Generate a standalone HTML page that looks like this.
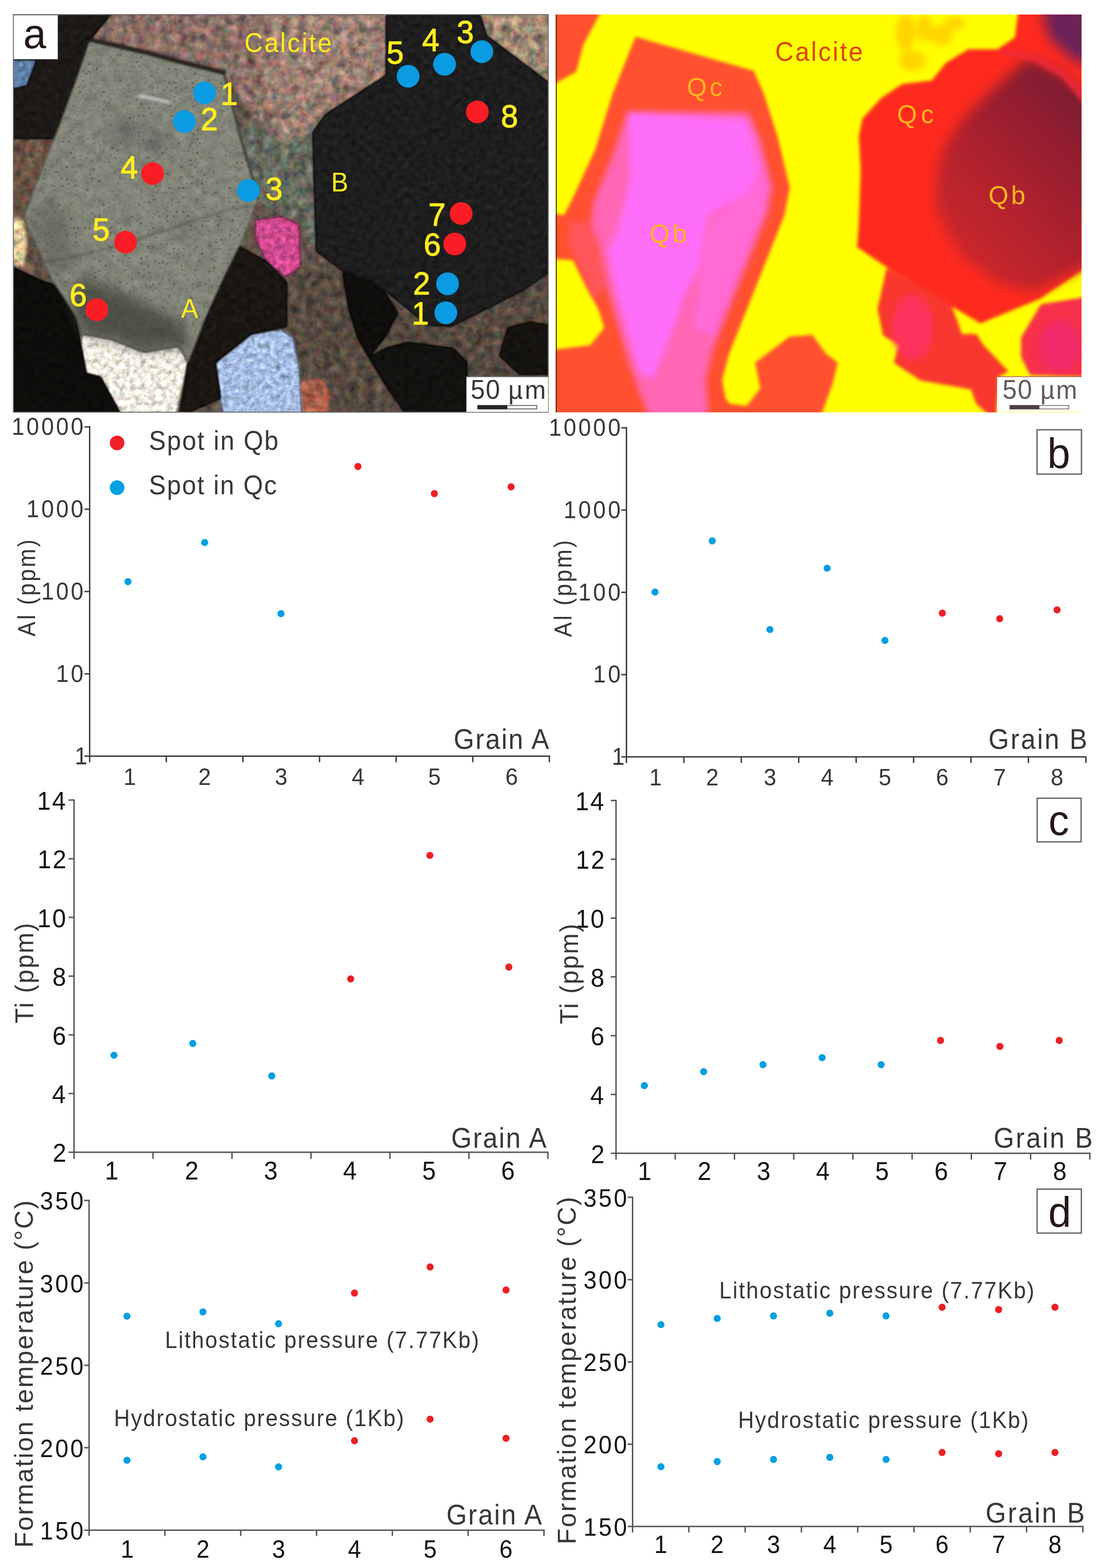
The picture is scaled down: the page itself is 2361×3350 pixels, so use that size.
<!DOCTYPE html>
<html lang="en"><head><meta charset="utf-8"><title>Figure</title>
<style>
html,body{margin:0;padding:0;background:#fff}
svg{display:block}
text{font-family:"Liberation Sans",sans-serif;white-space:pre}
</style></head>
<body>
<svg width="2361" height="3350" viewBox="0 0 2361 3350">
<defs>
<clipPath id="clipL"><rect x="28" y="31" width="1144" height="850"/></clipPath>
<clipPath id="clipR"><rect x="1187" y="31" width="1123.8" height="850"/></clipPath>
<filter id="b3" x="20" y="20" width="1160" height="870" filterUnits="userSpaceOnUse" color-interpolation-filters="sRGB"><feGaussianBlur stdDeviation="2.5"/></filter>
<filter id="b20" x="20" y="20" width="1160" height="870" filterUnits="userSpaceOnUse" color-interpolation-filters="sRGB"><feGaussianBlur stdDeviation="14"/></filter>
<filter id="rb4" x="1160" y="0" width="1180" height="910" filterUnits="userSpaceOnUse" color-interpolation-filters="sRGB"><feGaussianBlur stdDeviation="4"/></filter>
<filter id="rb5" x="1160" y="0" width="1180" height="910" filterUnits="userSpaceOnUse" color-interpolation-filters="sRGB"><feGaussianBlur stdDeviation="3.5"/></filter>
<filter id="rb8" x="1160" y="0" width="1180" height="910" filterUnits="userSpaceOnUse" color-interpolation-filters="sRGB"><feGaussianBlur stdDeviation="7"/></filter>
<filter id="rb14" x="1160" y="0" width="1180" height="910" filterUnits="userSpaceOnUse" color-interpolation-filters="sRGB"><feGaussianBlur stdDeviation="14"/></filter>
<linearGradient id="gcore" gradientUnits="userSpaceOnUse" x1="2000" y1="500" x2="2312" y2="200"><stop offset="0" stop-color="#cc282c"/><stop offset="0.5" stop-color="#a8202e"/><stop offset="1" stop-color="#7a1c32"/></linearGradient>
<filter id="mot" x="20" y="20" width="1160" height="870" filterUnits="userSpaceOnUse" color-interpolation-filters="sRGB">
<feTurbulence type="fractalNoise" baseFrequency="0.055" numOctaves="3" seed="5" result="t"/>
<feColorMatrix in="t" type="matrix" values=".6 .25 .15 0 0  .3 .5 .2 0 0  .3 .3 .4 0 0  0 0 0 0 1" result="t1"/>
<feGaussianBlur in="SourceGraphic" stdDeviation="3" result="s"/>
<feComposite in="s" in2="t1" operator="arithmetic" k1="1.7" k2="0.15" k3="0" k4="0"/>
</filter>
<filter id="mot2" x="20" y="20" width="1160" height="870" filterUnits="userSpaceOnUse" color-interpolation-filters="sRGB">
<feTurbulence type="fractalNoise" baseFrequency="0.09" numOctaves="3" seed="9" result="t"/>
<feColorMatrix in="t" type="matrix" values=".4 .3 .3 0 0  .3 .4 .3 0 0  .3 .3 .4 0 0  0 0 0 0 1" result="t1"/>
<feGaussianBlur in="SourceGraphic" stdDeviation="2.5" result="s"/>
<feComposite in="s" in2="t1" operator="arithmetic" k1="1.2" k2="0.4" k3="0" k4="0"/>
</filter>
<filter id="drk" x="20" y="20" width="1160" height="870" filterUnits="userSpaceOnUse" color-interpolation-filters="sRGB">
<feTurbulence type="fractalNoise" baseFrequency="0.08" numOctaves="3" seed="2" result="t"/>
<feColorMatrix in="t" type="matrix" values=".5 .3 .2 0 0  .3 .5 .2 0 0  .3 .3 .4 0 0  0 0 0 0 1" result="t1"/>
<feGaussianBlur in="SourceGraphic" stdDeviation="2.5" result="s"/>
<feComposite in="s" in2="t1" operator="arithmetic" k1="1.4" k2="0.3" k3="0" k4="0"/>
</filter>
<filter id="cra" x="20" y="20" width="1160" height="870" filterUnits="userSpaceOnUse" color-interpolation-filters="sRGB">
<feTurbulence type="fractalNoise" baseFrequency="0.05" numOctaves="3" seed="4" result="t"/>
<feColorMatrix in="t" type="matrix" values=".4 .3 .3 0 0  .3 .4 .3 0 0  .3 .3 .4 0 0  0 0 0 0 1" result="t1"/>
<feGaussianBlur in="SourceGraphic" stdDeviation="2" result="s"/>
<feComposite in="s" in2="t1" operator="arithmetic" k1="0.5" k2="0.75" k3="0" k4="0" result="m"/>
<feTurbulence type="fractalNoise" baseFrequency="0.2" numOctaves="2" seed="12" result="sp"/>
<feColorMatrix in="sp" type="matrix" values="0 0 0 0 0.17  0 0 0 0 0.17  0 0 0 0 0.17  0 0 0 6 -4.0" result="spa0"/>
<feGaussianBlur in="spa0" stdDeviation="0.9" result="spa"/>
<feComposite in="spa" in2="s" operator="in" result="spi"/>
<feMerge><feMergeNode in="m"/><feMergeNode in="spi"/></feMerge>
</filter>
</defs>
<rect width="2361" height="3350" fill="#fff"/>
<g clip-path="url(#clipL)">
<g filter="url(#mot)">
<rect x="20" y="20" width="1160" height="870" fill="#5f5248"/>
<polygon points="245.0,25.0 580.0,25.0 556.0,129.0 575.0,215.0 600.0,300.0 540.0,250.0 479.0,157.0 191.6,86.2" fill="#8a6e66"/>
<polygon points="578.0,25.0 830.0,25.0 825.0,161.0 695.0,245.0 668.0,283.0 620.0,300.0 596.0,300.0 575.0,215.0 556.0,129.0" fill="#9a7e72"/>
<polygon points="540.0,250.0 600.0,300.0 668.0,283.0 672.0,420.0 676.0,537.0 640.0,470.0 600.0,462.0 552.0,430.0 536.5,367.9 513.5,291.2" fill="#666a5e"/>
<polygon points="1024.5,25.0 1180.0,25.0 1180.0,182.0 1040.0,76.6" fill="#a08a74"/>
<polygon points="20.0,296.0 115.0,296.0 92.0,361.0 57.0,427.0 48.0,470.0 63.5,514.0 76.6,579.0 112.0,600.0 20.0,565.0" fill="#6a5244"/>
<polygon points="20.0,466.0 50.0,468.0 58.0,520.0 52.0,568.0 20.0,566.0" fill="#e2cc9c"/>
<polygon points="640.0,570.0 733.0,579.0 913.0,694.0 963.0,698.0 1116.0,621.0 1180.0,583.0 1180.0,890.0 645.0,890.0 625.0,720.0 613.0,650.0" fill="#564a40"/>
<polygon points="640.0,815.0 690.0,808.0 705.0,850.0 700.0,890.0 640.0,890.0" fill="#b0604a"/>
</g>
<g filter="url(#mot2)">
<polygon points="545.0,470.0 600.0,462.0 640.0,480.0 642.0,570.0 610.0,592.0 570.0,560.0 545.0,510.0" fill="#d04a8e"/>
<polygon points="20.0,127.0 79.0,127.0 60.0,184.0 20.0,192.0" fill="#5e80a8"/>
<polygon points="176.0,713.5 237.6,725.0 306.5,752.0 383.0,740.0 402.0,775.0 375.5,890.0 260.6,890.0 214.6,805.5 184.0,798.0 172.4,736.5" fill="#f0ece0"/>
<polygon points="460.0,775.0 536.5,713.6 600.0,704.0 625.0,720.0 640.0,790.0 645.0,890.0 478.0,890.0 471.0,851.5" fill="#a6bde2"/>
</g>
<g filter="url(#drk)">
<polygon points="20.0,20.0 245.0,20.0 191.6,86.2 168.6,153.3 129.0,285.0 115.0,296.0 20.0,296.0 20.0,192.0 57.5,184.0 79.0,127.0 20.0,127.0" fill="#1c1916"/>
<polygon points="20.0,568.0 95.8,602.4 126.5,610.0 134.0,633.0 161.0,675.0 172.4,736.5 184.0,798.0 214.6,805.5 260.6,890.0 20.0,890.0" fill="#0e0d0b"/>
<polygon points="509.6,525.8 567.0,556.5 613.0,602.4 613.0,698.0 536.5,713.6 460.0,775.0 471.3,851.5 383.0,890.0 402.0,775.0 440.6,675.0 479.0,591.0" fill="#1a1612"/>
<polygon points="825.0,31.0 1025.0,31.0 1040.0,76.6 1172.0,176.0 1172.0,583.0 1116.5,621.6 963.2,698.2 913.4,694.4 794.6,598.6 733.3,579.4 675.8,537.3 668.0,283.0 695.0,245.0 825.0,161.0" fill="#1e1e1e"/>
<polygon points="732.0,582.0 794.6,598.6 824.0,626.0 850.0,668.5 824.0,718.0 788.0,764.0 765.0,724.0 745.0,659.0" fill="#0f0e0c"/>
<polygon points="824.0,744.0 870.0,731.0 969.0,744.0 998.0,774.0 997.0,890.0 870.0,890.0 824.0,823.0 788.0,764.0" fill="#131210"/>
<polygon points="1085.0,700.0 1130.0,688.0 1180.0,695.0 1180.0,800.0 1110.0,800.0 1067.0,760.0" fill="#15130f"/>
</g>
<g filter="url(#cra)">
<polygon points="191.6,86.2 314.0,115.0 383.0,134.0 479.0,157.0 494.3,214.6 513.5,291.2 536.5,367.9 551.8,425.0 521.0,506.6 479.0,591.0 440.6,675.0 402.0,775.0 383.0,740.0 306.5,752.0 237.6,725.0 176.0,713.5 161.0,675.0 134.0,633.0 112.0,600.0 80.0,530.0 49.8,465.2 80.5,383.2 126.5,268.2 168.6,153.3" fill="#848679"/>
</g>
<g filter="url(#b20)" opacity="0.9">
<polygon points="150.0,640.0 171.5,590.0 260.0,625.0 386.0,686.0 400.0,720.0 398.0,770.0 383.0,740.0 306.5,752.0 237.6,725.0 176.0,713.5 161.0,675.0" fill="#3c3c36" opacity="0.8"/>
<polygon points="60.0,470.0 110.0,420.0 150.0,480.0 160.0,560.0 120.0,600.0 80.0,530.0" fill="#55564e" opacity="0.5"/>
<ellipse cx="268" cy="282" rx="30" ry="18" fill="#4c5054" opacity="0.7"/>
<ellipse cx="332" cy="305" rx="18" ry="28" fill="#4c5054" opacity="0.6"/>
<ellipse cx="395" cy="490" rx="14" ry="14" fill="#4c5054" opacity="0.5"/>
</g>
<g filter="url(#b3)" fill="none" stroke-linecap="round">
<path d="M191.6,84 L314,112 L383,131 L479,155" stroke="#15130f" stroke-width="9" opacity="0.85"/>
<path d="M479,157 L494,215 L513,291 L536,368 L552,425" stroke="#2a2622" stroke-width="4" opacity="0.7"/>
<path d="M95,560 C200,545 330,500 420,470 S500,445 548,440" stroke="#3a3a34" stroke-width="3" opacity="0.6"/>
<path d="M300,205 L360,218" stroke="#d8dce0" stroke-width="7" opacity="0.7"/>
</g>
</g>
<rect x="28.6" y="31.2" width="1142.8" height="849.4" fill="none" stroke="#666" stroke-width="2"/>
<rect x="29.5" y="32.5" width="94" height="94" fill="#fff"/>
<text transform="translate(49.86,102.60) scale(1,1.02)" font-size="88" fill="#231815">a</text>
<circle cx="436.8" cy="198.5" r="24.3" fill="#0a9be3"/>
<circle cx="393.9" cy="259.8" r="24.3" fill="#0a9be3"/>
<circle cx="326.1" cy="370.9" r="24.3" fill="#fb1d25"/>
<circle cx="530.7" cy="407.0" r="24.3" fill="#0a9be3"/>
<circle cx="268.2" cy="517.4" r="24.3" fill="#fb1d25"/>
<circle cx="206.9" cy="661.8" r="24.3" fill="#fb1d25"/>
<circle cx="872.0" cy="162.9" r="24.3" fill="#0a9be3"/>
<circle cx="949.8" cy="137.2" r="24.3" fill="#0a9be3"/>
<circle cx="1029.5" cy="110.4" r="24.3" fill="#0a9be3"/>
<circle cx="1019.9" cy="239.1" r="24.3" fill="#fb1d25"/>
<circle cx="985.4" cy="456.1" r="24.3" fill="#fb1d25"/>
<circle cx="971.6" cy="521.2" r="24.3" fill="#fb1d25"/>
<circle cx="956.3" cy="606.3" r="24.3" fill="#0a9be3"/>
<circle cx="952.5" cy="668.3" r="24.3" fill="#0a9be3"/>
<text transform="translate(471.24,224.20) scale(1,1.04)" font-size="66" fill="#ffee1f" stroke="#ffee1f" stroke-width="1.3">1</text>
<text transform="translate(429.00,277.80) scale(1,1.04)" font-size="66" fill="#ffee1f" stroke="#ffee1f" stroke-width="1.3">2</text>
<text transform="translate(567.14,426.80) scale(1,1.04)" font-size="66" fill="#ffee1f" stroke="#ffee1f" stroke-width="1.3">3</text>
<text transform="translate(257.66,381.30) scale(1,1.04)" font-size="66" fill="#ffee1f" stroke="#ffee1f" stroke-width="1.3">4</text>
<text transform="translate(197.86,513.80) scale(1,1.04)" font-size="66" fill="#ffee1f" stroke="#ffee1f" stroke-width="1.3">5</text>
<text transform="translate(148.72,653.50) scale(1,1.04)" font-size="66" fill="#ffee1f" stroke="#ffee1f" stroke-width="1.3">6</text>
<text transform="translate(826.11,135.50) scale(1,1.04)" font-size="66" fill="#ffee1f" stroke="#ffee1f" stroke-width="1.3">5</text>
<text transform="translate(901.96,109.20) scale(1,1.04)" font-size="66" fill="#ffee1f" stroke="#ffee1f" stroke-width="1.3">4</text>
<text transform="translate(975.69,91.50) scale(1,1.04)" font-size="66" fill="#ffee1f" stroke="#ffee1f" stroke-width="1.3">3</text>
<text transform="translate(1070.35,271.50) scale(1,1.04)" font-size="66" fill="#ffee1f" stroke="#ffee1f" stroke-width="1.3">8</text>
<text transform="translate(915.46,481.70) scale(1,1.04)" font-size="66" fill="#ffee1f" stroke="#ffee1f" stroke-width="1.3">7</text>
<text transform="translate(905.32,546.30) scale(1,1.04)" font-size="66" fill="#ffee1f" stroke="#ffee1f" stroke-width="1.3">6</text>
<text transform="translate(882.55,629.30) scale(1,1.04)" font-size="66" fill="#ffee1f" stroke="#ffee1f" stroke-width="1.3">2</text>
<text transform="translate(879.74,692.50) scale(1,1.04)" font-size="66" fill="#ffee1f" stroke="#ffee1f" stroke-width="1.3">1</text>
<text transform="translate(386.86,679.00) scale(1,1.04)" font-size="55" fill="#ffee1f">A</text>
<text transform="translate(707.45,409.20) scale(1,1.04)" font-size="55" fill="#ffee1f">B</text>
<text transform="translate(522.23,111.10) scale(1,1.04)" font-size="54.5" fill="#ffee1f" letter-spacing="3.35">Calcite</text>
<rect x="996.5" y="804.5" width="174.70000000000005" height="75.5" fill="#fff"/>
<path d="M996.5,805.0H1171.2" stroke="#4a4440" stroke-width="1.5" fill="none" opacity="0.8"/>
<text transform="translate(0,851.6) scale(1,1.04)" fill="#3a3634"><tspan x="1005.40" font-size="55" letter-spacing="1.87">50</tspan><tspan x="1067.15" font-size="54" letter-spacing="3.96"> µm</tspan></text>
<rect x="1021.0" y="866.4" width="125.79999999999995" height="7.2" fill="#fff" stroke="#3a3634" stroke-width="1.5"/>
<rect x="1020.25" y="865.6" width="63.75" height="8.8" fill="#2a2422"/>
<g clip-path="url(#clipR)">
<rect x="1187" y="31" width="1125" height="850" fill="#ffff00"/>
<g filter="url(#rb8)" fill="#ffb400" opacity="0.55">
<ellipse cx="1935" cy="70" rx="22" ry="40"/><ellipse cx="1975" cy="60" rx="16" ry="30"/><ellipse cx="2010" cy="75" rx="26" ry="22"/><ellipse cx="1950" cy="130" rx="30" ry="22"/><ellipse cx="2040" cy="50" rx="22" ry="16"/>
</g>
<g filter="url(#rb5)">
<polygon points="1170.0,15.0 1283.0,15.0 1281.0,31.0 1246.6,95.8 1231.3,153.3 1187.0,178.0 1170.0,180.0" fill="#ff5030"/>
<polygon points="1357.8,78.6 1610.7,151.4 1632.0,200.0 1661.6,292.7 1687.5,400.0 1676.4,459.5 1594.9,663.5 1557.8,756.2 1543.0,811.8 1550.0,850.0 1557.8,862.0 1594.9,867.4 1624.5,830.3 1613.4,774.7 1687.5,719.0 1735.8,715.4 1765.4,756.2 1790.0,775.0 1779.0,820.0 1750.0,900.0 1170.0,900.0 1170.0,455.0 1205.5,459.5 1224.0,422.5 1272.0,318.7 1309.0,200.0" fill="#ff5030"/>
<polygon points="1170.0,552.0 1224.0,556.0 1250.0,608.0 1279.7,663.5 1290.8,700.5 1261.0,737.6 1170.0,748.8" fill="#ffff00"/>
<polygon points="2176.3,15.0 2168.9,79.2 2131.8,105.2 2068.7,105.2 2020.5,134.8 1990.9,171.9 1927.8,179.3 1883.4,209.0 1842.6,253.5 1835.2,290.5 1838.9,364.7 1835.2,476.0 1831.4,527.9 1890.8,568.6 1983.5,624.3 2094.7,691.0 2220.8,639.1 2330.0,566.0 2330.0,15.0" fill="#ff2a1e"/>
<polygon points="1894.3,572.0 1875.0,660.0 1886.6,717.0 1921.0,736.5 1909.6,775.0 1967.0,813.0 2074.4,832.0 2086.0,863.0 2128.0,900.0 2135.0,803.6 2155.0,794.0 2101.0,736.5 2086.0,713.6 2055.0,713.6 2047.5,690.6 2032.0,650.0" fill="#f8382e"/>
<polygon points="2181.7,721.0 2224.0,650.0 2330.0,633.0 2330.0,805.5 2200.8,801.7 2181.7,763.0" fill="#f8304a"/>
</g>
<g filter="url(#rb8)">
<polygon points="1340.0,238.0 1600.0,240.0 1625.0,300.0 1650.0,400.0 1640.0,455.0 1560.0,655.0 1522.0,750.0 1508.0,812.0 1515.0,900.0 1390.0,900.0 1352.0,800.0 1338.0,756.0 1300.0,626.0 1283.0,534.0 1262.0,475.0 1268.0,430.0 1310.0,330.0" fill="#ff66b4"/>
<polygon points="1590.0,250.0 1618.0,300.0 1642.0,400.0 1632.0,450.0 1560.0,630.0 1525.0,720.0 1480.0,700.0 1500.0,560.0 1520.0,470.0 1610.0,400.0" fill="#ff6ad8" opacity="0.9"/>
<polygon points="1343.0,240.0 1595.0,254.0 1618.0,366.0 1600.0,410.0 1513.0,462.0 1495.0,570.0 1465.0,626.0 1446.0,682.0 1395.0,812.0 1365.0,793.0 1354.0,756.0 1317.0,626.0 1298.0,534.0 1317.0,497.0 1346.0,385.0 1343.0,300.0" fill="#ff6ef8"/>
<polygon points="1220.0,470.0 1262.0,480.0 1300.0,600.0 1270.0,640.0 1235.0,560.0 1215.0,520.0" fill="#ff5a78" opacity="0.6"/>
<ellipse cx="1950" cy="700" rx="45" ry="70" fill="#ff3070" opacity="0.7"/>
<ellipse cx="2265" cy="740" rx="45" ry="55" fill="#f02878" opacity="0.7"/>
</g>
<g filter="url(#rb14)">
<polygon points="2198.5,123.7 2261.6,153.4 2335.0,216.4 2335.0,560.0 2205.9,624.3 2131.8,605.7 2057.6,550.1 2020.5,494.5 1998.3,438.9 2002.0,364.7 2020.5,309.1 2057.6,253.5 2113.2,197.9" fill="url(#gcore)"/>
<polygon points="2225.0,10.0 2340.0,10.0 2340.0,150.0 2290.0,125.0 2240.0,80.0" fill="#6a2258"/>
</g>
<g filter="url(#rb5)">
<path d="M2140,110 L2215,125 L2275,160 L2320,215" fill="none" stroke="#f02a38" stroke-width="16" opacity="0.8"/>
</g>
</g>
<rect x="1187.6" y="31" width="2.2" height="850" fill="#4a3a10"/>
<text transform="translate(1656.23,130.00) scale(1,1.04)" font-size="54.5" fill="#d9440c" letter-spacing="3.47">Calcite</text>
<text transform="translate(1467.40,205.30) scale(1,1)" font-size="55" fill="#ffb51e" letter-spacing="5.97">Qc</text>
<text transform="translate(1387.70,517.50) scale(1,1)" font-size="55" fill="#ffb51e" letter-spacing="6.25">Qb</text>
<text transform="translate(1916.60,262.50) scale(1,1)" font-size="55" fill="#ffb51e" letter-spacing="8.47">Qc</text>
<text transform="translate(2112.00,435.50) scale(1,1)" font-size="55" fill="#ffb51e" letter-spacing="5.55">Qb</text>
<rect x="2130.5" y="804.3" width="180.5" height="76.0" fill="#fff"/>
<path d="M2130.5,804.8H2311.0" stroke="#8a3020" stroke-width="1.5" fill="none" opacity="0.8"/>
<text transform="translate(0,851.6) scale(1,1.04)" fill="#625a5a"><tspan x="2142.00" font-size="55" letter-spacing="1.87">50</tspan><tspan x="2204.95" font-size="54" letter-spacing="2.76"> µm</tspan></text>
<rect x="2157.8" y="866.4" width="126.0" height="7.2" fill="#fff" stroke="#625a5a" stroke-width="1.5"/>
<rect x="2157.05" y="865.6" width="63.75" height="8.8" fill="#4a4040"/>
<path d="M191.60,910.60V1628.50" stroke="#3f3b39" stroke-width="3.0" fill="none"/>
<path d="M180.50,1615.60H1175.30" stroke="#3f3b39" stroke-width="3.0" fill="none"/>
<path d="M180.50,912.10H191.60M180.50,1087.97H191.60M180.50,1263.85H191.60M180.50,1439.72H191.60M355.30,1615.60V1628.50M519.00,1615.60V1628.50M682.70,1615.60V1628.50M846.40,1615.60V1628.50M1010.10,1615.60V1628.50M1173.80,1615.60V1628.50" stroke="#3f3b39" stroke-width="3.0" fill="none"/>
<text transform="translate(25.03,929.40) scale(1,1.06)" font-size="48.5" fill="#3a3634" letter-spacing="4.60">10000</text>
<text transform="translate(56.60,1105.27) scale(1,1.06)" font-size="48.5" fill="#3a3634" letter-spacing="4.60">1000</text>
<text transform="translate(88.17,1281.15) scale(1,1.06)" font-size="48.5" fill="#3a3634" letter-spacing="4.60">100</text>
<text transform="translate(119.75,1457.02) scale(1,1.06)" font-size="48.5" fill="#3a3634" letter-spacing="4.60">10</text>
<text transform="translate(159.79,1632.90) scale(1,1.06)" font-size="48.5" fill="#3a3634" letter-spacing="4.60">1</text>
<text transform="translate(263.75,1676.50) scale(1,1.04)" font-size="48.5" fill="#3a3634">1</text>
<text transform="translate(423.71,1676.50) scale(1,1.04)" font-size="48.5" fill="#3a3634">2</text>
<text transform="translate(587.26,1676.50) scale(1,1.04)" font-size="48.5" fill="#3a3634">3</text>
<text transform="translate(751.47,1676.50) scale(1,1.04)" font-size="48.5" fill="#3a3634">4</text>
<text transform="translate(914.76,1676.50) scale(1,1.04)" font-size="48.5" fill="#3a3634">5</text>
<text transform="translate(1079.75,1676.50) scale(1,1.04)" font-size="48.5" fill="#3a3634">6</text>
<circle cx="273.4" cy="1242.7" r="7.6" fill="#059fe2"/>
<circle cx="437.3" cy="1159.2" r="7.6" fill="#059fe2"/>
<circle cx="600.4" cy="1311.1" r="7.6" fill="#059fe2"/>
<circle cx="764.8" cy="996.6" r="7.6" fill="#ee1f26"/>
<circle cx="928.1" cy="1054.6" r="7.6" fill="#ee1f26"/>
<circle cx="1092.0" cy="1040.2" r="7.6" fill="#ee1f26"/>
<circle cx="250.2" cy="946.3" r="15.6" fill="#ee1f26"/>
<circle cx="250.2" cy="1041.9" r="15.6" fill="#059fe2"/>
<text transform="translate(318.35,960.60) scale(1,1.075)" font-size="54" fill="#3a3634" letter-spacing="2.38">Spot in Qb</text>
<text transform="translate(318.35,1055.60) scale(1,1.075)" font-size="54" fill="#3a3634" letter-spacing="2.31">Spot in Qc</text>
<text transform="translate(969.36,1600.40) scale(1,1.07)" font-size="56.5" fill="#3a3634" letter-spacing="2.57">Grain A</text>
<text transform="translate(75.10,1359.69) rotate(-90) scale(1,1.08)" font-size="47.5" fill="#3a3634" letter-spacing="3.94">Al (ppm)</text>
<path d="M1338.50,912.40V1630.00" stroke="#3f3b39" stroke-width="3.0" fill="none"/>
<path d="M1327.50,1616.90H2321.60" stroke="#3f3b39" stroke-width="3.0" fill="none"/>
<path d="M1327.50,913.90H1338.50M1327.50,1089.65H1338.50M1327.50,1265.40H1338.50M1327.50,1441.15H1338.50M1461.20,1616.90V1630.00M1583.90,1616.90V1630.00M1706.60,1616.90V1630.00M1829.30,1616.90V1630.00M1952.00,1616.90V1630.00M2074.70,1616.90V1630.00M2197.40,1616.90V1630.00M2320.10,1616.90V1630.00" stroke="#3f3b39" stroke-width="3.0" fill="none"/>
<text transform="translate(1172.63,931.20) scale(1,1.06)" font-size="48.5" fill="#3a3634" letter-spacing="4.60">10000</text>
<text transform="translate(1204.20,1106.95) scale(1,1.06)" font-size="48.5" fill="#3a3634" letter-spacing="4.60">1000</text>
<text transform="translate(1235.77,1282.70) scale(1,1.06)" font-size="48.5" fill="#3a3634" letter-spacing="4.60">100</text>
<text transform="translate(1267.35,1458.45) scale(1,1.06)" font-size="48.5" fill="#3a3634" letter-spacing="4.60">10</text>
<text transform="translate(1307.39,1634.20) scale(1,1.06)" font-size="48.5" fill="#3a3634" letter-spacing="4.60">1</text>
<text transform="translate(1387.35,1677.50) scale(1,1.04)" font-size="48.5" fill="#3a3634">1</text>
<text transform="translate(1508.41,1677.50) scale(1,1.04)" font-size="48.5" fill="#3a3634">2</text>
<text transform="translate(1631.66,1677.50) scale(1,1.04)" font-size="48.5" fill="#3a3634">3</text>
<text transform="translate(1754.07,1677.50) scale(1,1.04)" font-size="48.5" fill="#3a3634">4</text>
<text transform="translate(1877.36,1677.50) scale(1,1.04)" font-size="48.5" fill="#3a3634">5</text>
<text transform="translate(1999.75,1677.50) scale(1,1.04)" font-size="48.5" fill="#3a3634">6</text>
<text transform="translate(2122.49,1677.50) scale(1,1.04)" font-size="48.5" fill="#3a3634">7</text>
<text transform="translate(2245.11,1677.50) scale(1,1.04)" font-size="48.5" fill="#3a3634">8</text>
<circle cx="1399.5" cy="1264.9" r="7.6" fill="#059fe2"/>
<circle cx="1521.9" cy="1155.6" r="7.6" fill="#059fe2"/>
<circle cx="1645.0" cy="1345.0" r="7.6" fill="#059fe2"/>
<circle cx="1767.2" cy="1214.0" r="7.6" fill="#059fe2"/>
<circle cx="1890.8" cy="1368.3" r="7.6" fill="#059fe2"/>
<circle cx="2013.4" cy="1309.9" r="7.6" fill="#ee1f26"/>
<circle cx="2136.0" cy="1321.8" r="7.6" fill="#ee1f26"/>
<circle cx="2258.6" cy="1303.0" r="7.6" fill="#ee1f26"/>
<text transform="translate(2111.96,1600.30) scale(1,1.07)" font-size="56.5" fill="#3a3634" letter-spacing="3.25">Grain B</text>
<text transform="translate(1221.00,1361.09) rotate(-90) scale(1,1.08)" font-size="47.5" fill="#3a3634" letter-spacing="3.94">Al (ppm)</text>
<rect x="2215.80" y="918.20" width="94.90" height="94.70" fill="#fff" stroke="#6b6b6b" stroke-width="3"/>
<text transform="translate(2237.79,1000.00) scale(1,1.04)" font-size="88" fill="#231815">b</text>
<path d="M158.20,1707.70V2476.00" stroke="#565250" stroke-width="3.0" fill="none"/>
<path d="M146.50,2461.80H1172.20" stroke="#565250" stroke-width="3.0" fill="none"/>
<path d="M146.50,1709.20H158.20M146.50,1834.63H158.20M146.50,1960.07H158.20M146.50,2085.50H158.20M146.50,2210.93H158.20M146.50,2336.37H158.20M326.95,2461.80V2476.00M495.70,2461.80V2476.00M664.45,2461.80V2476.00M833.20,2461.80V2476.00M1001.95,2461.80V2476.00M1170.70,2461.80V2476.00" stroke="#565250" stroke-width="3.0" fill="none"/>
<text transform="translate(79.14,1729.80) scale(1,1.07)" font-size="52.5" fill="#141212" letter-spacing="3.00">14</text>
<text transform="translate(80.24,1855.23) scale(1,1.07)" font-size="52.5" fill="#141212" letter-spacing="3.00">12</text>
<text transform="translate(79.65,1980.67) scale(1,1.07)" font-size="52.5" fill="#141212" letter-spacing="3.00">10</text>
<text transform="translate(112.08,2106.10) scale(1,1.07)" font-size="52.5" fill="#141212" letter-spacing="3.00">8</text>
<text transform="translate(112.11,2231.53) scale(1,1.07)" font-size="52.5" fill="#141212" letter-spacing="3.00">6</text>
<text transform="translate(111.34,2356.97) scale(1,1.07)" font-size="52.5" fill="#141212" letter-spacing="3.00">4</text>
<text transform="translate(112.44,2482.40) scale(1,1.07)" font-size="52.5" fill="#141212" letter-spacing="3.00">2</text>
<text transform="translate(224.08,2520.20) scale(1,1.07)" font-size="52.5" fill="#141212">1</text>
<text transform="translate(394.90,2520.20) scale(1,1.07)" font-size="52.5" fill="#141212">2</text>
<text transform="translate(564.05,2520.20) scale(1,1.07)" font-size="52.5" fill="#141212">3</text>
<text transform="translate(733.07,2520.20) scale(1,1.07)" font-size="52.5" fill="#141212">4</text>
<text transform="translate(901.95,2520.20) scale(1,1.07)" font-size="52.5" fill="#141212">5</text>
<text transform="translate(1070.72,2520.20) scale(1,1.07)" font-size="52.5" fill="#141212">6</text>
<circle cx="243.5" cy="2254.5" r="7.6" fill="#059fe2"/>
<circle cx="412.0" cy="2229.3" r="7.6" fill="#059fe2"/>
<circle cx="580.7" cy="2298.7" r="7.6" fill="#059fe2"/>
<circle cx="749.3" cy="2091.3" r="7.6" fill="#ee1f26"/>
<circle cx="918.5" cy="1827.5" r="7.6" fill="#ee1f26"/>
<circle cx="1087.2" cy="2066.2" r="7.6" fill="#ee1f26"/>
<text transform="translate(963.96,2451.60) scale(1,1.07)" font-size="56.5" fill="#3a3634" letter-spacing="2.57">Grain A</text>
<text transform="translate(71.10,2186.59) rotate(-90) scale(1,1.04)" font-size="53" fill="#3a3634" letter-spacing="2.74">Ti (ppm)</text>
<path d="M1316.20,1708.70V2477.50" stroke="#565250" stroke-width="3.0" fill="none"/>
<path d="M1305.00,2463.90H2330.10" stroke="#565250" stroke-width="3.0" fill="none"/>
<path d="M1305.00,1710.20H1316.20M1305.00,1835.82H1316.20M1305.00,1961.43H1316.20M1305.00,2087.05H1316.20M1305.00,2212.67H1316.20M1305.00,2338.28H1316.20M1442.75,2463.90V2477.50M1569.30,2463.90V2477.50M1695.85,2463.90V2477.50M1822.40,2463.90V2477.50M1948.95,2463.90V2477.50M2075.50,2463.90V2477.50M2202.05,2463.90V2477.50M2328.60,2463.90V2477.50" stroke="#565250" stroke-width="3.0" fill="none"/>
<text transform="translate(1229.14,1730.80) scale(1,1.07)" font-size="52.5" fill="#141212" letter-spacing="3.00">14</text>
<text transform="translate(1230.24,1856.42) scale(1,1.07)" font-size="52.5" fill="#141212" letter-spacing="3.00">12</text>
<text transform="translate(1229.65,1982.03) scale(1,1.07)" font-size="52.5" fill="#141212" letter-spacing="3.00">10</text>
<text transform="translate(1262.08,2107.65) scale(1,1.07)" font-size="52.5" fill="#141212" letter-spacing="3.00">8</text>
<text transform="translate(1262.11,2233.27) scale(1,1.07)" font-size="52.5" fill="#141212" letter-spacing="3.00">6</text>
<text transform="translate(1261.34,2358.88) scale(1,1.07)" font-size="52.5" fill="#141212" letter-spacing="3.00">4</text>
<text transform="translate(1262.44,2484.50) scale(1,1.07)" font-size="52.5" fill="#141212" letter-spacing="3.00">2</text>
<text transform="translate(1362.68,2520.50) scale(1,1.07)" font-size="52.5" fill="#141212">1</text>
<text transform="translate(1490.40,2520.50) scale(1,1.07)" font-size="52.5" fill="#141212">2</text>
<text transform="translate(1617.05,2520.50) scale(1,1.07)" font-size="52.5" fill="#141212">3</text>
<text transform="translate(1743.57,2520.50) scale(1,1.07)" font-size="52.5" fill="#141212">4</text>
<text transform="translate(1870.05,2520.50) scale(1,1.07)" font-size="52.5" fill="#141212">5</text>
<text transform="translate(1996.42,2520.50) scale(1,1.07)" font-size="52.5" fill="#141212">6</text>
<text transform="translate(2123.08,2520.50) scale(1,1.07)" font-size="52.5" fill="#141212">7</text>
<text transform="translate(2249.70,2520.50) scale(1,1.07)" font-size="52.5" fill="#141212">8</text>
<circle cx="1376.8" cy="2319.3" r="7.6" fill="#059fe2"/>
<circle cx="1503.4" cy="2289.6" r="7.6" fill="#059fe2"/>
<circle cx="1630.2" cy="2274.6" r="7.6" fill="#059fe2"/>
<circle cx="1756.5" cy="2259.6" r="7.6" fill="#059fe2"/>
<circle cx="1882.7" cy="2274.6" r="7.6" fill="#059fe2"/>
<circle cx="2009.6" cy="2222.9" r="7.6" fill="#ee1f26"/>
<circle cx="2136.4" cy="2235.7" r="7.6" fill="#ee1f26"/>
<circle cx="2263.2" cy="2222.9" r="7.6" fill="#ee1f26"/>
<text transform="translate(2122.96,2452.00) scale(1,1.07)" font-size="56.5" fill="#3a3634" letter-spacing="3.35">Grain B</text>
<text transform="translate(1235.00,2188.19) rotate(-90) scale(1,1.04)" font-size="53" fill="#3a3634" letter-spacing="2.74">Ti (ppm)</text>
<rect x="2216.10" y="1705.40" width="93.80" height="93.20" fill="#fff" stroke="#6b6b6b" stroke-width="3"/>
<text transform="translate(2240.29,1783.50) scale(1,1.04)" font-size="88" fill="#231815">c</text>
<path d="M190.30,2563.30V3281.50" stroke="#565250" stroke-width="3.0" fill="none"/>
<path d="M180.00,3269.20H1163.80" stroke="#565250" stroke-width="3.0" fill="none"/>
<path d="M180.00,2564.80H190.30M180.00,2740.90H190.30M180.00,2917.00H190.30M180.00,3093.10H190.30M352.30,3269.20V3281.50M514.30,3269.20V3281.50M676.30,3269.20V3281.50M838.30,3269.20V3281.50M1000.30,3269.20V3281.50M1162.30,3269.20V3281.50" stroke="#565250" stroke-width="3.0" fill="none"/>
<text transform="translate(85.62,2584.40) scale(1,1.08)" font-size="50.5" fill="#141212" letter-spacing="4.20">350</text>
<text transform="translate(85.62,2760.50) scale(1,1.08)" font-size="50.5" fill="#141212" letter-spacing="4.20">300</text>
<text transform="translate(85.62,2936.60) scale(1,1.08)" font-size="50.5" fill="#141212" letter-spacing="4.20">250</text>
<text transform="translate(85.62,3112.70) scale(1,1.08)" font-size="50.5" fill="#141212" letter-spacing="4.20">200</text>
<text transform="translate(85.62,3288.80) scale(1,1.08)" font-size="50.5" fill="#141212" letter-spacing="4.20">150</text>
<text transform="translate(257.77,3328.00) scale(1,1.06)" font-size="50.5" fill="#141212">1</text>
<text transform="translate(419.56,3328.00) scale(1,1.06)" font-size="50.5" fill="#141212">2</text>
<text transform="translate(581.31,3328.00) scale(1,1.06)" font-size="50.5" fill="#141212">3</text>
<text transform="translate(743.52,3328.00) scale(1,1.06)" font-size="50.5" fill="#141212">4</text>
<text transform="translate(905.01,3328.00) scale(1,1.06)" font-size="50.5" fill="#141212">5</text>
<text transform="translate(1066.98,3328.00) scale(1,1.06)" font-size="50.5" fill="#141212">6</text>
<circle cx="271.3" cy="2812.0" r="7.6" fill="#059fe2"/>
<circle cx="433.6" cy="2802.9" r="7.6" fill="#059fe2"/>
<circle cx="595.2" cy="2828.2" r="7.6" fill="#059fe2"/>
<circle cx="757.4" cy="2762.7" r="7.6" fill="#ee1f26"/>
<circle cx="919.0" cy="2706.9" r="7.6" fill="#ee1f26"/>
<circle cx="1081.2" cy="2756.2" r="7.6" fill="#ee1f26"/>
<circle cx="271.3" cy="3119.8" r="7.6" fill="#059fe2"/>
<circle cx="433.6" cy="3112.5" r="7.6" fill="#059fe2"/>
<circle cx="595.2" cy="3133.9" r="7.6" fill="#059fe2"/>
<circle cx="757.4" cy="3078.1" r="7.6" fill="#ee1f26"/>
<circle cx="919.0" cy="3032.0" r="7.6" fill="#ee1f26"/>
<circle cx="1081.2" cy="3072.9" r="7.6" fill="#ee1f26"/>
<text transform="translate(352.54,2880.20) scale(1,1.07)" font-size="47" fill="#3a3634" letter-spacing="2.51">Lithostatic pressure (7.77Kb)</text>
<text transform="translate(243.44,3046.90) scale(1,1.07)" font-size="47" fill="#3a3634" letter-spacing="2.44">Hydrostatic pressure (1Kb)</text>
<text transform="translate(953.76,3256.50) scale(1,1.07)" font-size="56.5" fill="#3a3634" letter-spacing="2.63">Grain A</text>
<text transform="translate(70.00,3306.81) rotate(-90) scale(1,1.02)" font-size="55" fill="#3a3634" letter-spacing="2.77">Formation temperature (°C)</text>
<path d="M1351.60,2556.60V3274.00" stroke="#565250" stroke-width="3.0" fill="none"/>
<path d="M1341.00,3261.20H2315.10" stroke="#565250" stroke-width="3.0" fill="none"/>
<path d="M1341.00,2558.10H1351.60M1341.00,2733.88H1351.60M1341.00,2909.65H1351.60M1341.00,3085.42H1351.60M1471.85,3261.20V3274.00M1592.10,3261.20V3274.00M1712.35,3261.20V3274.00M1832.60,3261.20V3274.00M1952.85,3261.20V3274.00M2073.10,3261.20V3274.00M2193.35,3261.20V3274.00M2313.60,3261.20V3274.00" stroke="#565250" stroke-width="3.0" fill="none"/>
<text transform="translate(1246.82,2577.70) scale(1,1.08)" font-size="50.5" fill="#141212" letter-spacing="4.20">350</text>
<text transform="translate(1246.82,2753.47) scale(1,1.08)" font-size="50.5" fill="#141212" letter-spacing="4.20">300</text>
<text transform="translate(1246.82,2929.25) scale(1,1.08)" font-size="50.5" fill="#141212" letter-spacing="4.20">250</text>
<text transform="translate(1246.82,3105.02) scale(1,1.08)" font-size="50.5" fill="#141212" letter-spacing="4.20">200</text>
<text transform="translate(1246.82,3280.80) scale(1,1.08)" font-size="50.5" fill="#141212" letter-spacing="4.20">150</text>
<text transform="translate(1397.77,3317.50) scale(1,1.06)" font-size="50.5" fill="#141212">1</text>
<text transform="translate(1518.36,3317.50) scale(1,1.06)" font-size="50.5" fill="#141212">2</text>
<text transform="translate(1638.81,3317.50) scale(1,1.06)" font-size="50.5" fill="#141212">3</text>
<text transform="translate(1759.12,3317.50) scale(1,1.06)" font-size="50.5" fill="#141212">4</text>
<text transform="translate(1879.21,3317.50) scale(1,1.06)" font-size="50.5" fill="#141212">5</text>
<text transform="translate(1998.78,3317.50) scale(1,1.06)" font-size="50.5" fill="#141212">6</text>
<text transform="translate(2119.73,3317.50) scale(1,1.06)" font-size="50.5" fill="#141212">7</text>
<text transform="translate(2240.06,3317.50) scale(1,1.06)" font-size="50.5" fill="#141212">8</text>
<circle cx="1412.2" cy="2830.0" r="7.6" fill="#059fe2"/>
<circle cx="1532.4" cy="2816.8" r="7.6" fill="#059fe2"/>
<circle cx="1652.7" cy="2811.3" r="7.6" fill="#059fe2"/>
<circle cx="1773.0" cy="2805.7" r="7.6" fill="#059fe2"/>
<circle cx="1893.2" cy="2811.3" r="7.6" fill="#059fe2"/>
<circle cx="2013.0" cy="2792.9" r="7.6" fill="#ee1f26"/>
<circle cx="2133.8" cy="2797.9" r="7.6" fill="#ee1f26"/>
<circle cx="2254.1" cy="2792.9" r="7.6" fill="#ee1f26"/>
<circle cx="1412.2" cy="3133.7" r="7.6" fill="#059fe2"/>
<circle cx="1532.4" cy="3122.6" r="7.6" fill="#059fe2"/>
<circle cx="1652.7" cy="3118.1" r="7.6" fill="#059fe2"/>
<circle cx="1773.0" cy="3113.7" r="7.6" fill="#059fe2"/>
<circle cx="1893.2" cy="3118.1" r="7.6" fill="#059fe2"/>
<circle cx="2013.0" cy="3103.1" r="7.6" fill="#ee1f26"/>
<circle cx="2133.8" cy="3105.9" r="7.6" fill="#ee1f26"/>
<circle cx="2254.1" cy="3103.1" r="7.6" fill="#ee1f26"/>
<text transform="translate(1536.84,2774.00) scale(1,1.07)" font-size="47" fill="#3a3634" letter-spacing="2.59">Lithostatic pressure (7.77Kb)</text>
<text transform="translate(1576.94,3051.30) scale(1,1.07)" font-size="47" fill="#3a3634" letter-spacing="2.48">Hydrostatic pressure (1Kb)</text>
<text transform="translate(2105.86,3252.90) scale(1,1.07)" font-size="56.5" fill="#3a3634" letter-spacing="3.40">Grain B</text>
<text transform="translate(1230.00,3299.41) rotate(-90) scale(1,1.02)" font-size="55" fill="#3a3634" letter-spacing="2.77">Formation temperature (°C)</text>
<rect x="2216.00" y="2540.50" width="94.50" height="93.90" fill="#fff" stroke="#6b6b6b" stroke-width="3"/>
<text transform="translate(2239.77,2621.00) scale(1,1.04)" font-size="88" fill="#231815">d</text>
</svg>
</body></html>
